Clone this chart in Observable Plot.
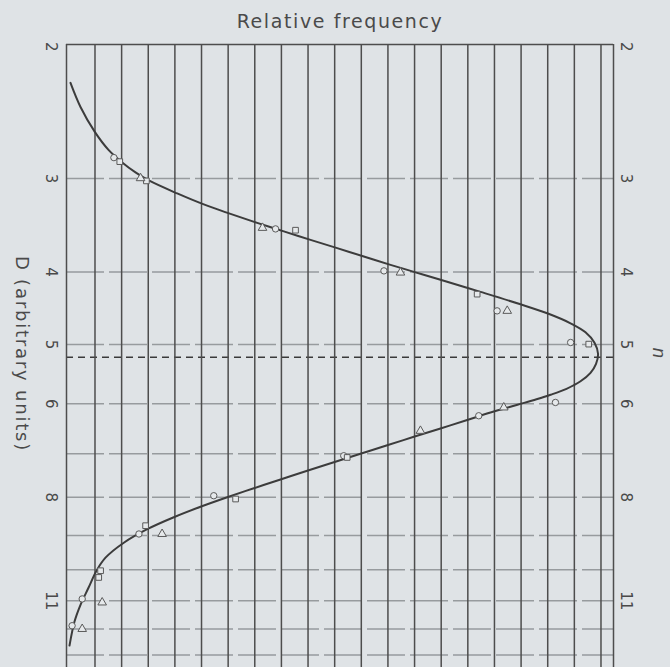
<!DOCTYPE html>
<html>
<head>
<meta charset="utf-8">
<script src="https://cdn.jsdelivr.net/npm/d3@7"></script>
<script src="https://cdn.jsdelivr.net/npm/@observablehq/plot@0.6"></script>
<style>
  html, body { margin: 0; padding: 0; background: #dfe3e6; }
  #chart { width: 670px; height: 667px; overflow: hidden; }
</style>
</head>
<body>
<div id="chart"></div>
<script>
// Axis / grid values
const yTickLabels = [2, 3, 4, 5, 6, 8, 11];
const yGridValues = [3, 4, 5, 6, 7, 8, 9, 10, 11, 12, 13];
const xGridValues = [1, 2, 3, 4, 5, 6, 7, 8, 9, 10, 11, 12, 13, 14, 15, 16, 17, 18, 19, 20];
const xDomain = [-0.07, 20.47];
const yDomain = [1.986, 13.51];
const modeD = 5.2;

// Fitted curve (relative frequency f vs D)
const curveF = [0.08, 0.456, 0.993, 1.507, 2.022, 2.521, 3.021, 4.087, 5.086, 6.089, 7.091, 8.090, 9.093, 10.095, 11.094, 12.097, 13.036, 13.974, 15.476, 16.978, 18.030, 18.856, 19.419, 19.757, 19.889, 19.814, 19.607, 19.232, 18.706, 18.105, 17.579, 16.866, 15.852, 14.977, 13.974, 12.972, 11.973, 10.970, 9.968, 8.969, 7.966, 6.964, 5.965, 4.962, 3.959, 2.961, 2.082, 1.395, 1.057, 0.756, 0.456, 0.231, 0.043];
const curveD = [2.235, 2.407, 2.599, 2.747, 2.855, 2.944, 3.018, 3.141, 3.249, 3.345, 3.439, 3.530, 3.623, 3.717, 3.813, 3.913, 4.004, 4.097, 4.252, 4.418, 4.549, 4.684, 4.816, 4.974, 5.145, 5.306, 5.455, 5.599, 5.730, 5.837, 5.918, 6.019, 6.165, 6.309, 6.474, 6.642, 6.818, 6.998, 7.184, 7.374, 7.576, 7.782, 8.000, 8.238, 8.508, 8.827, 9.202, 9.636, 10.03, 10.57, 11.14, 11.73, 12.63];

// Observed points, three data sets
const circleF = [1.71, 7.78, 11.85, 16.10, 18.86, 18.29, 15.41, 10.34, 5.46, 2.65, 0.52, 0.14];
const circleD = [2.813, 3.503, 3.986, 4.508, 4.969, 5.976, 6.226, 7.041, 7.963, 8.958, 10.94, 11.88];
const squareF = [1.93, 2.93, 8.53, 15.35, 19.54, 10.47, 6.28, 2.90, 1.21, 1.14];
const squareD = [2.848, 3.022, 3.517, 4.282, 4.994, 7.078, 8.044, 8.732, 10.03, 10.24];
const triangleF = [2.71, 7.29, 12.47, 16.48, 16.35, 13.22, 3.52, 1.27, 0.52];
const triangleD = [2.997, 3.492, 4.007, 4.508, 6.069, 6.522, 8.958, 11.06, 12.00];

const titleText = "Relative frequency";
const leftLabel = "D (arbitrary units)";
const rightLabel = "n";

const curve = curveF.map((f, i) => ({f, D: curveD[i]}));
const circles = circleF.map((f, i) => ({f, D: circleD[i]}));
const squares = squareF.map((f, i) => ({f, D: squareD[i]}));
const triangles = triangleF.map((f, i) => ({f, D: triangleD[i]}));

const textColor = "#4a4a4a";
const font = "DejaVu Sans";

const plot = Plot.plot({
  width: 670,
  height: 667,
  marginTop: 44,
  marginBottom: 0,
  marginLeft: 66,
  marginRight: 57,
  style: {background: "#dfe3e6", fontFamily: font, color: textColor, overflow: "visible"},
  x: {domain: xDomain, axis: null},
  y: {type: "log", domain: yDomain, reverse: true, axis: null},
  marks: [
    Plot.ruleY(yGridValues, {stroke: "#979b9e", strokeWidth: 1.5, strokeDasharray: "38 5"}),
    Plot.ruleY([modeD], {stroke: "#3a3a3a", strokeWidth: 1.3, strokeDasharray: "7 5"}),
    Plot.ruleX(xGridValues, {stroke: "#4d4d4d", strokeWidth: 1.5}),
    Plot.ruleX(xDomain, {stroke: "#4d4d4d", strokeWidth: 1.5}),
    Plot.ruleY([yDomain[0]], {stroke: "#4d4d4d", strokeWidth: 1.5}),
    Plot.line(curve, {x: "f", y: "D", curve: "catmull-rom", stroke: "#3c3c3c", strokeWidth: 2}),
    Plot.dot(circles, {x: "f", y: "D", symbol: "circle", r: 3.2, stroke: "#5a5a5a", fill: "#e6e9eb", strokeWidth: 1}),
    Plot.dot(squares, {x: "f", y: "D", symbol: "square", r: 3.2, stroke: "#5a5a5a", fill: "#e6e9eb", strokeWidth: 1}),
    Plot.dot(triangles, {x: "f", y: "D", symbol: "triangle", r: 3.2, stroke: "#5a5a5a", fill: "#e6e9eb", strokeWidth: 1}),
    Plot.text(yTickLabels, {y: d => d, text: d => `${d}`, frameAnchor: "left", textAnchor: "middle", lineAnchor: "middle", dx: -16, rotate: 90, fontSize: 15, fill: textColor}),
    Plot.text(yTickLabels, {y: d => d, text: d => `${d}`, frameAnchor: "right", textAnchor: "middle", lineAnchor: "middle", dx: 12, rotate: 90, fontSize: 15, fill: textColor}),
    Plot.text([titleText], {text: d => d, frameAnchor: "top", textAnchor: "middle", lineAnchor: "middle", dy: -23, fontSize: 19, fill: textColor, className: "wide"}),
    Plot.text([leftLabel], {text: d => d, frameAnchor: "left", textAnchor: "middle", lineAnchor: "middle", dx: -45, dy: -2, rotate: 90, fontSize: 18, fill: textColor, className: "wide2"}),
    Plot.text([rightLabel], {text: d => d, frameAnchor: "right", textAnchor: "middle", lineAnchor: "middle", dx: 45, dy: -3, rotate: 90, fontSize: 17, fontStyle: "italic", fill: textColor})
  ]
});

d3.select(plot).selectAll("g.wide text").attr("letter-spacing", "1.6px");
d3.select(plot).selectAll("g.wide2 text").attr("letter-spacing", "1.8px");
document.getElementById("chart").appendChild(plot);
</script>
</body>
</html>
